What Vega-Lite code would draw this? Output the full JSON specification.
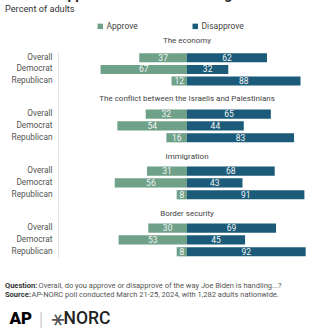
{
  "$schema": "https://vega.github.io/schema/vega-lite/v6.json",
  "padding": {"left": 5, "top": -13, "right": 0, "bottom": 0},
  "title": {
    "text": "More disapprove of Biden's handling of issues than approve",
    "subtitle": "Percent of adults",
    "anchor": "start",
    "frame": "bounds",
    "fontSize": 14,
    "fontWeight": "bold",
    "color": "#222222",
    "subtitleFontSize": 9.2,
    "subtitleColor": "#333333",
    "subtitlePadding": 3,
    "offset": 8
  },
  "datasets": {
    "bars": [
      {"issue": "The economy", "group": "Overall", "response": "Approve", "value": -37, "pct": 37},
      {"issue": "The economy", "group": "Overall", "response": "Disapprove", "value": 62, "pct": 62},
      {"issue": "The economy", "group": "Democrat", "response": "Approve", "value": -67, "pct": 67},
      {"issue": "The economy", "group": "Democrat", "response": "Disapprove", "value": 32, "pct": 32},
      {"issue": "The economy", "group": "Republican", "response": "Approve", "value": -12, "pct": 12},
      {"issue": "The economy", "group": "Republican", "response": "Disapprove", "value": 88, "pct": 88},
      {"issue": "The conflict between the Israelis and Palestinians", "group": "Overall", "response": "Approve", "value": -32, "pct": 32},
      {"issue": "The conflict between the Israelis and Palestinians", "group": "Overall", "response": "Disapprove", "value": 65, "pct": 65},
      {"issue": "The conflict between the Israelis and Palestinians", "group": "Democrat", "response": "Approve", "value": -54, "pct": 54},
      {"issue": "The conflict between the Israelis and Palestinians", "group": "Democrat", "response": "Disapprove", "value": 44, "pct": 44},
      {"issue": "The conflict between the Israelis and Palestinians", "group": "Republican", "response": "Approve", "value": -16, "pct": 16},
      {"issue": "The conflict between the Israelis and Palestinians", "group": "Republican", "response": "Disapprove", "value": 83, "pct": 83},
      {"issue": "Immigration", "group": "Overall", "response": "Approve", "value": -31, "pct": 31},
      {"issue": "Immigration", "group": "Overall", "response": "Disapprove", "value": 68, "pct": 68},
      {"issue": "Immigration", "group": "Democrat", "response": "Approve", "value": -56, "pct": 56},
      {"issue": "Immigration", "group": "Democrat", "response": "Disapprove", "value": 43, "pct": 43},
      {"issue": "Immigration", "group": "Republican", "response": "Approve", "value": -8, "pct": 8},
      {"issue": "Immigration", "group": "Republican", "response": "Disapprove", "value": 91, "pct": 91},
      {"issue": "Border security", "group": "Overall", "response": "Approve", "value": -30, "pct": 30},
      {"issue": "Border security", "group": "Overall", "response": "Disapprove", "value": 69, "pct": 69},
      {"issue": "Border security", "group": "Democrat", "response": "Approve", "value": -53, "pct": 53},
      {"issue": "Border security", "group": "Democrat", "response": "Disapprove", "value": 45, "pct": 45},
      {"issue": "Border security", "group": "Republican", "response": "Approve", "value": -8, "pct": 8},
      {"issue": "Border security", "group": "Republican", "response": "Disapprove", "value": 92, "pct": 92}
    ],
    "titles": [
      {"issue": "The economy", "group": "Overall"},
      {"issue": "The conflict between the Israelis and Palestinians", "group": "Overall"},
      {"issue": "Immigration", "group": "Overall"},
      {"issue": "Border security", "group": "Overall"}
    ],
    "footer": [
      {"row": "q", "label": "Question:", "text": "Overall, do you approve or disapprove of the way Joe Biden is handling...?"},
      {"row": "s", "label": "Source:", "text": "AP-NORC poll conducted March 21-25, 2024, with 1,282 adults nationwide."},
      {"row": "logo", "label": "AP", "sep": "|", "glyph": "∗", "text": "NORC"}
    ]
  },
  "spacing": 0,
  "vconcat": [
    {
      "width": 258,
      "height": 34.8,
      "layer": [
        {
          "data": {"name": "bars"},
          "transform": [{"filter": "datum.issue === 'The economy'"}],
          "mark": {"type": "bar"},
          "encoding": {
            "y": {"field": "group", "type": "nominal", "sort": ["Overall", "Democrat", "Republican"], "scale": {"domain": ["Overall", "Democrat", "Republican"], "paddingInner": 0.224, "paddingOuter": 0.112}, "axis": {"title": null, "ticks": false, "labelPadding": 6, "labelFontSize": 8.3, "labelColor": "#555555", "domainColor": "#e2e2e2", "minExtent": 53, "grid": false}},
            "x": {"field": "value", "type": "quantitative", "stack": null, "scale": {"domain": [-100, 100]}, "axis": null},
            "color": {"field": "response", "type": "nominal", "scale": {"domain": ["Approve", "Disapprove"], "range": ["#6fa088", "#1b5b79"]}}
          }
        },
        {
          "data": {"name": "bars"},
          "transform": [{"filter": "datum.issue === 'The economy'"}],
          "mark": {"type": "text", "color": "#f2f5f5", "fontSize": 8.5},
          "encoding": {
            "y": {"field": "group", "type": "nominal"},
            "x": {"field": "value", "type": "quantitative", "stack": null, "scale": {"domain": [-200, 200]}, "axis": null},
            "text": {"field": "pct", "type": "quantitative"}
          }
        },
        {
          "data": {"name": "titles"},
          "transform": [{"filter": "datum.issue === 'The economy'"}],
          "mark": {"type": "text", "dy": -17, "fontSize": 8, "color": "#444444"},
          "encoding": {
            "y": {"field": "group", "type": "nominal"},
            "x": {"datum": 0, "type": "quantitative", "scale": {"domain": [-100, 100]}, "axis": null},
            "text": {"field": "issue"}
          }
        }
      ],
      "resolve": {"scale": {"x": "independent"}}
    },
    {
      "width": 258,
      "height": 56.6,
      "layer": [
        {
          "data": {"name": "bars"},
          "transform": [{"filter": "datum.issue === 'The conflict between the Israelis and Palestinians'"}],
          "mark": {"type": "bar"},
          "encoding": {
            "y": {"field": "group", "type": "nominal", "sort": ["Overall", "Democrat", "Republican"], "scale": {"domain": ["Overall", "Democrat", "Republican"], "paddingInner": 0.224, "paddingOuter": 1.052, "align": 0.947}, "axis": {"title": null, "ticks": false, "labelPadding": 6, "labelFontSize": 8.3, "labelColor": "#555555", "domainColor": "#e2e2e2", "minExtent": 53, "grid": false}},
            "x": {"field": "value", "type": "quantitative", "stack": null, "scale": {"domain": [-100, 100]}, "axis": null},
            "color": {"field": "response", "type": "nominal", "scale": {"domain": ["Approve", "Disapprove"], "range": ["#6fa088", "#1b5b79"]}}
          }
        },
        {
          "data": {"name": "bars"},
          "transform": [{"filter": "datum.issue === 'The conflict between the Israelis and Palestinians'"}],
          "mark": {"type": "text", "color": "#f2f5f5", "fontSize": 8.5},
          "encoding": {
            "y": {"field": "group", "type": "nominal"},
            "x": {"field": "value", "type": "quantitative", "stack": null, "scale": {"domain": [-200, 200]}, "axis": null},
            "text": {"field": "pct", "type": "quantitative"}
          }
        },
        {
          "data": {"name": "titles"},
          "transform": [{"filter": "datum.issue === 'The conflict between the Israelis and Palestinians'"}],
          "mark": {"type": "text", "dy": -15, "fontSize": 8, "color": "#444444"},
          "encoding": {
            "y": {"field": "group", "type": "nominal"},
            "x": {"datum": 0, "type": "quantitative", "scale": {"domain": [-100, 100]}, "axis": null},
            "text": {"field": "issue"}
          }
        }
      ],
      "resolve": {"scale": {"x": "independent"}}
    },
    {
      "width": 258,
      "height": 56.6,
      "layer": [
        {
          "data": {"name": "bars"},
          "transform": [{"filter": "datum.issue === 'Immigration'"}],
          "mark": {"type": "bar"},
          "encoding": {
            "y": {"field": "group", "type": "nominal", "sort": ["Overall", "Democrat", "Republican"], "scale": {"domain": ["Overall", "Democrat", "Republican"], "paddingInner": 0.224, "paddingOuter": 1.052, "align": 0.947}, "axis": {"title": null, "ticks": false, "labelPadding": 6, "labelFontSize": 8.3, "labelColor": "#555555", "domainColor": "#e2e2e2", "minExtent": 53, "grid": false}},
            "x": {"field": "value", "type": "quantitative", "stack": null, "scale": {"domain": [-100, 100]}, "axis": null},
            "color": {"field": "response", "type": "nominal", "scale": {"domain": ["Approve", "Disapprove"], "range": ["#6fa088", "#1b5b79"]}}
          }
        },
        {
          "data": {"name": "bars"},
          "transform": [{"filter": "datum.issue === 'Immigration'"}],
          "mark": {"type": "text", "color": "#f2f5f5", "fontSize": 8.5},
          "encoding": {
            "y": {"field": "group", "type": "nominal"},
            "x": {"field": "value", "type": "quantitative", "stack": null, "scale": {"domain": [-200, 200]}, "axis": null},
            "text": {"field": "pct", "type": "quantitative"}
          }
        },
        {
          "data": {"name": "titles"},
          "transform": [{"filter": "datum.issue === 'Immigration'"}],
          "mark": {"type": "text", "dy": -14.5, "fontSize": 8, "color": "#444444"},
          "encoding": {
            "y": {"field": "group", "type": "nominal"},
            "x": {"datum": 0, "type": "quantitative", "scale": {"domain": [-100, 100]}, "axis": null},
            "text": {"field": "issue"}
          }
        }
      ],
      "resolve": {"scale": {"x": "independent"}}
    },
    {
      "width": 258,
      "height": 56.6,
      "layer": [
        {
          "data": {"name": "bars"},
          "transform": [{"filter": "datum.issue === 'Border security'"}],
          "mark": {"type": "bar"},
          "encoding": {
            "y": {"field": "group", "type": "nominal", "sort": ["Overall", "Democrat", "Republican"], "scale": {"domain": ["Overall", "Democrat", "Republican"], "paddingInner": 0.224, "paddingOuter": 1.052, "align": 0.947}, "axis": {"title": null, "ticks": false, "labelPadding": 6, "labelFontSize": 8.3, "labelColor": "#555555", "domainColor": "#e2e2e2", "minExtent": 53, "grid": false}},
            "x": {"field": "value", "type": "quantitative", "stack": null, "scale": {"domain": [-100, 100]}, "axis": null},
            "color": {"field": "response", "type": "nominal", "scale": {"domain": ["Approve", "Disapprove"], "range": ["#6fa088", "#1b5b79"]}}
          }
        },
        {
          "data": {"name": "bars"},
          "transform": [{"filter": "datum.issue === 'Border security'"}],
          "mark": {"type": "text", "color": "#f2f5f5", "fontSize": 8.5},
          "encoding": {
            "y": {"field": "group", "type": "nominal"},
            "x": {"field": "value", "type": "quantitative", "stack": null, "scale": {"domain": [-200, 200]}, "axis": null},
            "text": {"field": "pct", "type": "quantitative"}
          }
        },
        {
          "data": {"name": "titles"},
          "transform": [{"filter": "datum.issue === 'Border security'"}],
          "mark": {"type": "text", "dy": -14.5, "fontSize": 8, "color": "#444444"},
          "encoding": {
            "y": {"field": "group", "type": "nominal"},
            "x": {"datum": 0, "type": "quantitative", "scale": {"domain": [-100, 100]}, "axis": null},
            "text": {"field": "issue"}
          }
        }
      ],
      "resolve": {"scale": {"x": "independent"}}
    },
    {
      "width": 258,
      "height": 71.2,
      "data": {"name": "footer"},
      "encoding": {
        "y": {"datum": 1, "type": "quantitative", "scale": {"domain": [0, 1]}, "axis": null},
        "x": {"datum": 0, "type": "quantitative", "scale": {"domain": [53, 311], "zero": false}, "axis": null}
      },
      "layer": [
        {
          "transform": [{"filter": "datum.row === 'q'"}],
          "mark": {"type": "text", "align": "left", "dy": 27.7, "fontWeight": "bold", "fontSize": 7.5, "color": "#333333"},
          "encoding": {"text": {"field": "label"}}
        },
        {
          "transform": [{"filter": "datum.row === 's'"}],
          "mark": {"type": "text", "align": "left", "dy": 36.7, "fontWeight": "bold", "fontSize": 7.5, "color": "#333333"},
          "encoding": {"text": {"field": "label"}}
        },
        {
          "transform": [{"filter": "datum.row === 'q'"}],
          "mark": {"type": "text", "align": "left", "dx": 33.5, "dy": 27.7, "fontSize": 7.5, "color": "#555555"},
          "encoding": {"text": {"field": "text"}}
        },
        {
          "transform": [{"filter": "datum.row === 's'"}],
          "mark": {"type": "text", "align": "left", "dx": 26.5, "dy": 36.7, "fontSize": 7.5, "color": "#555555"},
          "encoding": {"text": {"field": "text"}}
        },
        {
          "transform": [{"filter": "datum.row === 'logo'"}],
          "mark": {"type": "text", "align": "left", "dx": 4.5, "dy": 60.5, "fontWeight": 900, "fontSize": 17, "color": "#000000"},
          "encoding": {"text": {"field": "label"}}
        },
        {
          "transform": [{"filter": "datum.row === 'logo'"}],
          "mark": {"type": "text", "align": "center", "dx": 36, "dy": 60.5, "fontSize": 15, "color": "#cccccc", "font": "DejaVu Sans"},
          "encoding": {"text": {"field": "sep"}}
        },
        {
          "transform": [{"filter": "datum.row === 'logo'"}],
          "mark": {"type": "text", "align": "center", "baseline": "middle", "dx": 62, "dy": -52.5, "angle": 90, "fontSize": 19, "color": "#555555", "font": "DejaVu Sans"},
          "encoding": {"text": {"field": "glyph"}}
        },
        {
          "transform": [{"filter": "datum.row === 'logo'"}],
          "mark": {"type": "text", "align": "left", "dx": 58.5, "dy": 60.5, "fontSize": 17.5, "fontWeight": 500, "color": "#222222"},
          "encoding": {"text": {"field": "text"}}
        }
      ]
    }
  ],
  "config": {
    "font": "Roboto",
    "view": {"stroke": null},
    "legend": {
      "orient": "none",
      "legendX": 38,
      "legendY": -30,
      "direction": "horizontal",
      "title": null,
      "symbolType": "square",
      "symbolSize": 30,
      "labelFontSize": 8.5,
      "labelColor": "#444444",
      "columnPadding": 53,
      "labelOffset": 2
    }
  }
}
